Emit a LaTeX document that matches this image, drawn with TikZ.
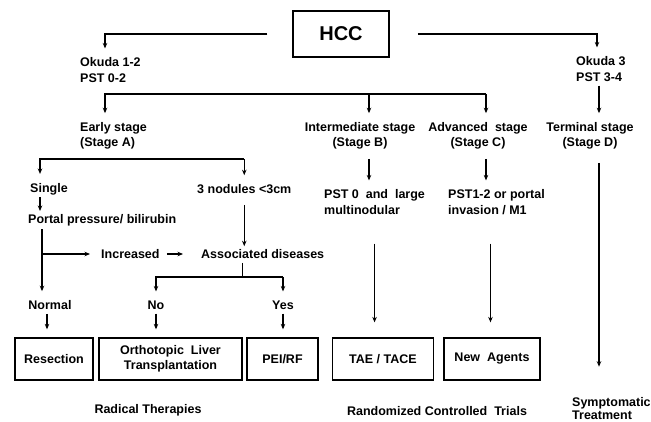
\documentclass[tikz,border=0pt]{standalone}
\usepackage{fontspec}
\setmainfont{Liberation Sans}
\usetikzlibrary{arrows.meta, positioning, calc}

\begin{document}
\begin{tikzpicture}[x=1pt, y=-1pt,
    every node/.style={font=\fontsize{12.5}{15.5}\selectfont\bfseries, inner sep=1pt},
    box/.style={draw, line width=1.3pt, minimum height=42pt, align=center},
    arr/.style={-{Stealth[length=5.5pt, width=4.5pt]}, line width=1.3pt, shorten >=8pt},
    ln/.style={line width=1.3pt}]
    \useasboundingbox (0,0) rectangle (651,422);
    % HCC
    \node[draw, line width=1.5pt, minimum width=96pt, minimum height=46pt, font=\fontsize{20}{24}\selectfont\bfseries] (hcc) at (341,34) {HCC};
    % Okuda
    \node[anchor=west, align=left] (okuda12) at (79,70) {Okuda 1-2\\PST 0-2};
    \node[anchor=west, align=left] (okuda3) at (575,69) {Okuda 3\\PST 3-4};
    \draw[arr] ([xshift=-25pt]hcc.west) -| ([xshift=26pt]okuda12.north west);
    \draw[arr] ([xshift=28pt]hcc.east) -| ([xshift=22pt]okuda3.north west);
    % Stages
    \node[anchor=west, align=left] (stageA) at (79,136) {Early stage\\(Stage A)};
    \node[align=center] (stageB) at (360,136) {Intermediate stage\\(Stage B)};
    \node[align=center] (stageC) at (478,136) {Advanced~~stage\\(Stage C)};
    \node[align=center] (stageD) at (590,136) {Terminal stage\\(Stage D)};
    \coordinate (bar1) at (0,94);
    \draw[arr] ([xshift=8pt]stageC.north |- bar1) -| ([xshift=26pt]stageA.north west);
    \draw[arr] ([xshift=9pt]stageB.north |- bar1) -- ([xshift=9pt]stageB.north);
    \draw[arr] ([xshift=8pt]stageC.north |- bar1) -- ([xshift=8pt]stageC.north);
    \draw[arr, shorten <=3pt] ([xshift=24pt]okuda3.south west) -- ([xshift=9pt]stageD.north);
    % Stage A
    \node[anchor=west] (single) at (29,189) {Single};
    \node[anchor=west] (nod3) at (196,189) {3 nodules <3cm};
    \coordinate (bar2) at (0,159);
    \draw[arr] (nod3.north |- bar2) -| ([xshift=11pt]single.north west);
    \draw[arr] (nod3.north |- bar2) -- (nod3.north);
    \node[anchor=west] (portal) at (27,220) {Portal pressure/ bilirubin};
    \draw[arr, shorten <=1pt, shorten >=2pt] ([xshift=11pt]single.south west) -- ([xshift=13pt]portal.north west);
    \node[anchor=west] (incr) at (100,254) {Increased};
    \node[anchor=west] (assoc) at (200,254) {Associated diseases};
    \node (normal) at (50,305) {Normal};
    \draw[arr, shorten <=2pt] ([xshift=15pt]portal.south west) -- ([xshift=15pt]portal.south west |- normal.north);
    \draw[arr, shorten >=10pt] ([xshift=15pt]portal.south west |- incr.west) -- (incr.west);
    \draw[arr, shorten <=6pt, shorten >=17pt] (incr.east) -- (assoc.west);
    \draw[arr, shorten <=10pt, shorten >=2pt] (nod3.south) -- (nod3.south |- assoc.north);
    % Associated diseases
    \node (no) at (156,305) {No};
    \node (yes) at (283,305) {Yes};
    \coordinate (bar3) at (0,277);
    \draw[ln, shorten <=3pt] ([xshift=-20pt]assoc.south) -- ([xshift=-20pt]assoc.south |- bar3);
    \draw[arr] (yes.north |- bar3) -| (no.north);
    \draw[arr] (yes.north |- bar3) -- (yes.north);
    % Therapies
    \node[box, minimum width=78pt] (resect) at (54,359) {Resection};
    \node[box, minimum width=143pt] (olt) at (170.5,359) {Orthotopic~~Liver\\Transplantation};
    \node[box, minimum width=71pt] (pei) at (282.5,359) {PEI/RF};
    \node[box, minimum width=101pt] (tace) at (383,359) {TAE / TACE};
    \node[box, minimum width=96pt] (newag) at (492,359) {New~~Agents};
    \draw[arr, shorten <=3pt] ([xshift=-3pt]normal.south) -- ([xshift=-3pt]normal.south |- resect.north);
    \draw[arr, shorten <=3pt] (no.south) -- (no.south |- olt.north);
    \draw[arr, shorten <=3pt] (yes.south) -- (yes.south |- pei.north);
    % Stages B, C
    \node[anchor=west, align=left] (pstB) at (323,202) {PST 0~~and~~large\\multinodular};
    \node[anchor=west, align=left] (pstC) at (447,202) {PST1-2 or portal\\invasion / M1};
    \draw[arr, shorten <=8pt] ([xshift=9pt]stageB.south) -- ([xshift=9pt]stageB.south |- pstB.north);
    \draw[arr, shorten <=8pt] ([xshift=8pt]stageC.south) -- ([xshift=8pt]stageC.south |- pstC.north);
    \draw[arr, shorten <=28pt, shorten >=15pt] (pstB.south) -- (pstB.south |- tace.north);
    \draw[arr, shorten <=28pt, shorten >=15pt] ([xshift=-6pt]pstC.south) -- ([xshift=-6pt]pstC.south |- newag.north);
    % Stage D
    \node[anchor=west, align=left, font=\fontsize{12.5}{13}\selectfont\bfseries] (symp) at (571,409) {Symptomatic\\Treatment};
    \draw[arr, shorten <=12pt, shorten >=30pt] ([xshift=9pt]stageD.south) -- ([xshift=9pt]stageD.south |- symp.north);
    % Labels
    \node (radical) at (148,410) {Radical Therapies};
    \node (rct) at (437,411) {Randomized Controlled~~Trials};
\end{tikzpicture}
\end{document}
